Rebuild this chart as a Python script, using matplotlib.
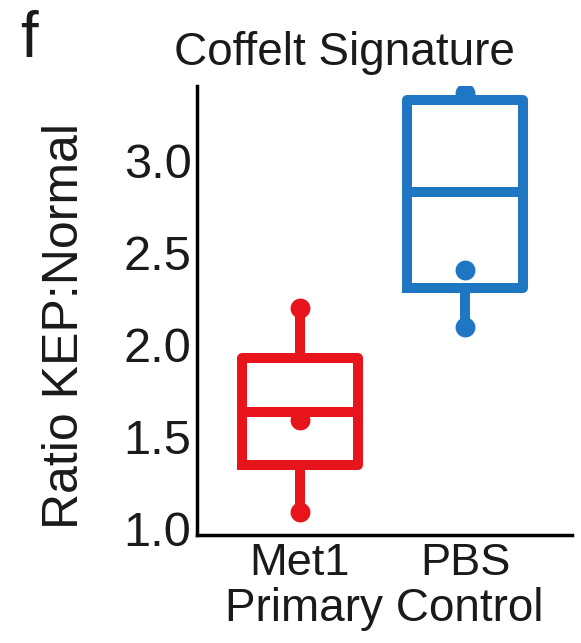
import matplotlib
matplotlib.use("Agg")
import matplotlib.pyplot as plt

plt.rcParams['font.family'] = ['Liberation Sans', 'DejaVu Sans']

categories = ["Met1", "PBS"]
colors = ["#e8141c", "#1f77c4"]
# box statistics
q1 = [1.345, 2.31]
med = [1.633, 2.83]
q3 = [1.93, 3.33]
whislo = [1.09, 2.095]
whishi = [2.198, 3.33]
# individual points
points = [[2.198, 1.59, 1.09], [3.367, 2.405, 2.095]]
yticks = [1.0, 1.5, 2.0, 2.5, 3.0]

W, H = 581, 643
fig = plt.figure(figsize=(W/100, H/100), dpi=100)
ax = fig.add_axes([197/W, 1-535/H, (572-197)/W, (535-86)/H])

positions = [1, 2]
lw = 7.2
for i, cat in enumerate(categories):
    stats = [dict(label=cat, q1=q1[i], med=med[i], q3=q3[i],
                  whislo=whislo[i], whishi=whishi[i], fliers=[])]
    ax.bxp(stats, positions=[positions[i]], widths=0.70, showcaps=False,
           boxprops=dict(color=colors[i], linewidth=lw, solid_joinstyle='round'),
           medianprops=dict(color=colors[i], linewidth=lw, solid_capstyle='butt'),
           whiskerprops=dict(color=colors[i], linewidth=lw, solid_capstyle='round'),
           manage_ticks=False)
    ax.scatter([positions[i]] * len(points[i]), points[i], s=205,
               color=colors[i], zorder=5, linewidths=0)

ax.set_xlim(0.376, 2.648)
ax.set_ylim(0.967, 3.405)
ax.set_xticks(positions)
ax.set_xticklabels(categories)
ax.set_yticks(yticks)
ax.set_yticklabels([f"{v:.1f}" for v in yticks])
ax.tick_params(axis='y', length=0, labelsize=35, colors='#1a1a1a', pad=4)
ax.tick_params(axis='x', length=0, labelsize=32.5, colors='#1a1a1a', pad=6)
for s in ['top', 'right']:
    ax.spines[s].set_visible(False)
for s in ['left', 'bottom']:
    ax.spines[s].set_linewidth(2.5)
    ax.spines[s].set_color('black')

ax.set_xlabel("Primary Control", fontsize=33, color='#1a1a1a', labelpad=2)
fig.text(65/W, 1-326/H, "Ratio KEP:Normal", fontsize=36, color='#1a1a1a',
         rotation=90, ha='center', va='center')
fig.text(344/W, 1-65/H, "Coffelt Signature", fontsize=33, color='#1a1a1a',
         ha='center', va='baseline')
fig.text(20/W, 1-57/H, "f", fontsize=46, color='#1a1a1a', va='baseline')

fig.savefig("out.png", dpi=100)
